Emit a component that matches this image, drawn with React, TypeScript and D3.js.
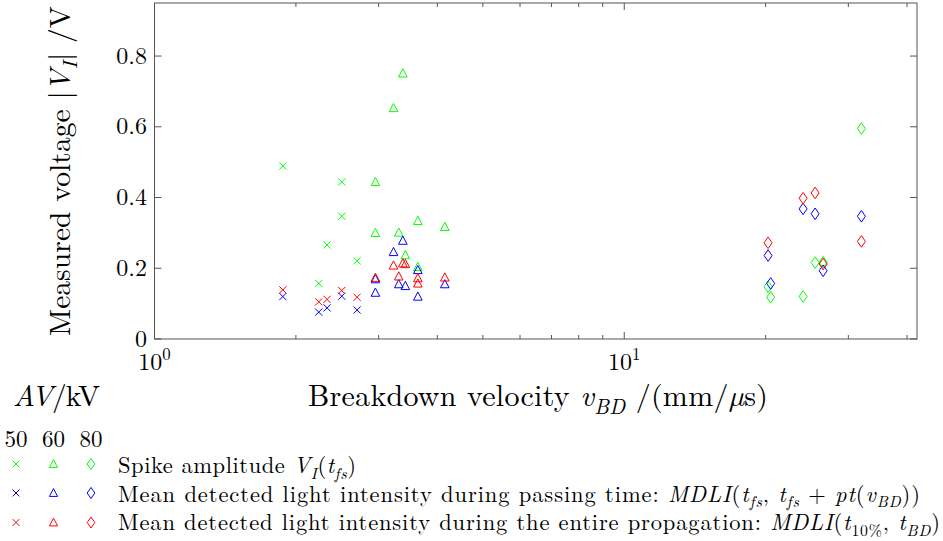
import React from "react";
import * as d3 from "d3";

// ---- data ----
// 50 kV  (x markers)
const spikeX50 = [1.876, 2.237, 2.33, 2.504, 2.504, 2.70];
const spikeY50 = [0.489, 0.157, 0.266, 0.444, 0.347, 0.221];
const passX50 = [1.876, 2.237, 2.33, 2.504, 2.70];
const passY50 = [0.120, 0.076, 0.088, 0.121, 0.082];
const entireX50 = [1.876, 2.237, 2.33, 2.504, 2.70];
const entireY50 = [0.139, 0.105, 0.112, 0.137, 0.118];
// 60 kV  (triangles)
const spikeX60 = [2.953, 2.953, 3.227, 3.378, 3.311, 3.42, 3.636, 3.636, 4.15];
const spikeY60 = [0.444, 0.300, 0.653, 0.751, 0.301, 0.237, 0.334, 0.204, 0.317];
const passX60 = [2.953, 2.953, 3.227, 3.378, 3.311, 3.42, 3.636, 3.636, 4.15];
const passY60 = [0.169, 0.131, 0.246, 0.278, 0.155, 0.150, 0.195, 0.120, 0.155];
const entireX60 = [2.953, 3.227, 3.378, 3.42, 3.311, 3.636, 3.636, 4.15];
const entireY60 = [0.173, 0.208, 0.214, 0.212, 0.177, 0.172, 0.157, 0.174];
// 80 kV  (diamonds)
const spikeX80 = [31.98, 20.24, 20.5, 24.03, 25.49, 26.51];
const spikeY80 = [0.595, 0.148, 0.118, 0.120, 0.216, 0.217];
const passX80 = [31.98, 20.24, 20.5, 24.03, 25.49, 26.51];
const passY80 = [0.347, 0.236, 0.157, 0.368, 0.354, 0.193];
const entireX80 = [31.98, 20.24, 24.03, 25.49, 26.51];
const entireY80 = [0.276, 0.272, 0.398, 0.413, 0.212];

const voltages = ["50", "60", "80"];
const yTicks = [0, 0.2, 0.4, 0.6, 0.8];
const xMajor = [1, 10];
const xMinor = [2, 3, 4, 5, 6, 7, 8, 9, 20, 30, 40];
const xDomain = [1, 42];
const yDomain = [0, 0.95];

const GREEN = "#00ff00";
const BLUE = "#0000ff";
const RED = "#ff0000";

type Seg = { t: string; i?: boolean; sub?: boolean; sup?: boolean };

const FONT = "'Latin Modern Roman'";

function Rich(props: {
  x: number;
  y: number;
  size: number;
  segs: Seg[];
  anchor?: string;
  transform?: string;
  len?: number;
}) {
  const { x, y, size, segs, anchor, transform, len } = props;
  let cur = 0;
  return (
    <text
      x={x}
      y={y}
      textAnchor={anchor || "start"}
      transform={transform}
      textLength={len}
      lengthAdjust={len ? "spacing" : undefined}
      fill="#000"
      style={{ whiteSpace: "pre", fontFamily: FONT, fontSize: size + "px" }}
    >
      {segs.map((s, k) => {
        const target = s.sub ? size * 0.25 : s.sup ? -size * 0.4 : 0;
        const dy = target - cur;
        cur = target;
        return (
          <tspan
            key={k}
            dy={dy}
            style={{
              fontFamily: FONT,
              fontStyle: s.i ? "italic" : "normal",
              fontSize: (s.sub || s.sup ? size * 0.7 : size) + "px",
            }}
          >
            {s.t}
          </tspan>
        );
      })}
    </text>
  );
}

function Marker({ kind, x, y, color, s = 1 }: { kind: string; x: number; y: number; color: string; s?: number }) {
  let d = "";
  if (kind === "x") {
    const r = 3.6 * s;
    d = `M${x - r},${y - r}L${x + r},${y + r}M${x - r},${y + r}L${x + r},${y - r}`;
  } else if (kind === "t") {
    const w = 4.3 * s;
    d = `M${x},${y - 4.6 * s}L${x + w},${y + 3.6 * s}L${x - w},${y + 3.6 * s}Z`;
  } else {
    d = `M${x},${y - 5.8 * s}L${x + 4 * s},${y}L${x},${y + 5.8 * s}L${x - 4 * s},${y}Z`;
  }
  return <path d={d} fill="none" stroke={color} strokeWidth={1} />;
}

export default function App() {
  const L = 154.5, R = 917, T = 3, B = 339;
  const x = d3.scaleLog().domain(xDomain).range([L, R]);
  const y = d3.scaleLinear().domain(yDomain).range([B, T]);

  const series: { xs: number[]; ys: number[]; kind: string; color: string }[] = [
    { xs: spikeX50, ys: spikeY50, kind: "x", color: GREEN },
    { xs: spikeX60, ys: spikeY60, kind: "t", color: GREEN },
    { xs: spikeX80, ys: spikeY80, kind: "d", color: GREEN },
    { xs: passX50, ys: passY50, kind: "x", color: BLUE },
    { xs: passX60, ys: passY60, kind: "t", color: BLUE },
    { xs: passX80, ys: passY80, kind: "d", color: BLUE },
    { xs: entireX50, ys: entireY50, kind: "x", color: RED },
    { xs: entireX60, ys: entireY60, kind: "t", color: RED },
    { xs: entireX80, ys: entireY80, kind: "d", color: RED },
  ];

  const axisColor = "#555";
  const majLen = 7, minLen = 4;

  const legendRows: { color: string; segs: Seg[]; len: number; baseline: number; my: number }[] = [
    {
      color: GREEN,
      baseline: 473,
      my: 464,
      len: 238,
      segs: [
        { t: "Spike amplitude " },
        { t: "V", i: true },
        { t: "I", i: true, sub: true },
        { t: "(" },
        { t: "t", i: true },
        { t: "fs", i: true, sub: true },
        { t: ")" },
      ],
    },
    {
      color: BLUE,
      baseline: 501.5,
      my: 493,
      len: 802,
      segs: [
        { t: "Mean detected light intensity during passing time: " },
        { t: "MDLI", i: true },
        { t: "(" },
        { t: "t", i: true },
        { t: "fs", i: true, sub: true },
        { t: ", " },
        { t: "t", i: true },
        { t: "fs", i: true, sub: true },
        { t: " + " },
        { t: "pt", i: true },
        { t: "(" },
        { t: "v", i: true },
        { t: "BD", i: true, sub: true },
        { t: "))" },
      ],
    },
    {
      color: RED,
      baseline: 530,
      my: 522.5,
      len: 822,
      segs: [
        { t: "Mean detected light intensity during the entire propagation: " },
        { t: "MDLI", i: true },
        { t: "(" },
        { t: "t", i: true },
        { t: "10%", sub: true },
        { t: ", " },
        { t: "t", i: true },
        { t: "BD", i: true, sub: true },
        { t: ")" },
      ],
    },
  ];
  const legendCols = [16, 53.5, 91];
  const kinds = ["x", "t", "d"];
  const plain = (size: number) => ({ fontFamily: FONT, fontSize: size + "px" });

  return (
    <svg
      width={943}
      height={541}
      style={{ position: "absolute", left: 0, top: 0, background: "#fff" }}
    >
      <rect x={0} y={0} width={943} height={541} fill="#fff" />
      {/* axes box */}
      <rect x={L} y={T} width={R - L} height={B - T} fill="none" stroke={axisColor} strokeWidth={1} />
      {/* y ticks */}
      {yTicks.map((v) => (
        <g key={"y" + v}>
          <line x1={L} x2={L + majLen} y1={y(v)} y2={y(v)} stroke={axisColor} />
          <line x1={R} x2={R - majLen} y1={y(v)} y2={y(v)} stroke={axisColor} />
          <text x={147} y={y(v) + 7.5} style={plain(24)} textAnchor="end">
            {v === 0 ? "0" : d3.format(".1f")(v)}
          </text>
        </g>
      ))}
      {/* x ticks */}
      {xMajor.map((v) => (
        <g key={"xm" + v}>
          <line x1={x(v)} x2={x(v)} y1={B} y2={B - majLen} stroke={axisColor} />
          <line x1={x(v)} x2={x(v)} y1={T} y2={T + majLen} stroke={axisColor} />
          <Rich
            x={x(v)}
            y={370}
            size={24}
            anchor="middle"
            segs={[{ t: "10" }, { t: String(Math.round(Math.log10(v))), sup: true }]}
          />
        </g>
      ))}
      {xMinor.map((v) => (
        <g key={"xn" + v}>
          <line x1={x(v)} x2={x(v)} y1={B} y2={B - minLen} stroke={axisColor} />
          <line x1={x(v)} x2={x(v)} y1={T} y2={T + minLen} stroke={axisColor} />
        </g>
      ))}
      {/* data */}
      {series.map((s, si) =>
        s.xs.map((xv, k) => (
          <Marker key={si + "-" + k} kind={s.kind} x={x(xv)} y={y(s.ys[k])} color={s.color} />
        ))
      )}
      {/* axis labels */}
      <Rich
        x={0}
        y={0}
        size={29.5}
        anchor="middle"
        transform={`translate(70,${(T + B) / 2}) rotate(-90)`}
        len={330}
        segs={[
          { t: "Measured voltage |" },
          { t: "V", i: true },
          { t: "I", i: true, sub: true },
          { t: "| /V" },
        ]}
      />
      <Rich
        x={308}
        y={406}
        size={30}
        len={460}
        segs={[
          { t: "Breakdown velocity " },
          { t: "v", i: true },
          { t: "BD", i: true, sub: true },
          { t: " /(mm/" },
          { t: "\u00b5", i: true },
          { t: "s)" },
        ]}
      />
      {/* legend */}
      <Rich x={13} y={406} size={29.5} len={87} segs={[{ t: "AV", i: true }, { t: "/kV" }]} />
      {voltages.map((v, k) => (
        <text key={v} x={legendCols[k]} y={447} style={plain(23)} textAnchor="middle">
          {v}
        </text>
      ))}
      {legendRows.map((row, r) => (
        <g key={"lr" + r}>
          {kinds.map((kd, c) => (
            <Marker key={kd} kind={kd} x={legendCols[c]} y={row.my} color={row.color} s={0.95} />
          ))}
          <Rich x={118} y={row.baseline} size={22.5} len={row.len} segs={row.segs} />
        </g>
      ))}
    </svg>
  );
}
